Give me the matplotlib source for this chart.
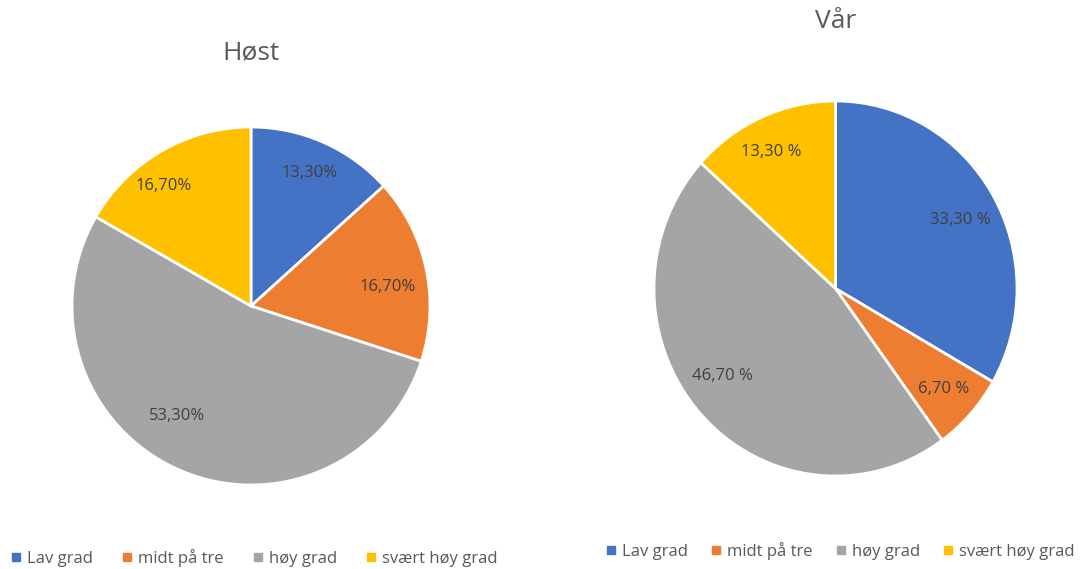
import numpy as np
import matplotlib.pyplot as plt
from matplotlib.lines import Line2D

categories = ["Lav grad", "midt på tre", "høy grad", "svært høy grad"]
colors = ["#4472C4", "#ED7D31", "#A5A5A5", "#FFC000"]

host_values = [13.3, 16.7, 53.3, 16.7]
host_labels = ["13,30%", "16,70%", "53,30%", "16,70%"]

var_values = [33.3, 6.7, 46.7, 13.3]
var_labels = ["33,30 %", "6,70 %", "46,70 %", "13,30 %"]

# label placement (radius fraction, angle shift in degrees), Excel-ish best fit
host_label_pos = [(0.81, 0), (0.77, -4), (0.74, -10), (0.83, 6)]
var_label_pos = [(0.78, -2), (0.80, 0), (0.78, -5), (0.81, 2)]

plt.rcParams["font.family"] = ["Open Sans", "DejaVu Sans"]

W, H = 1085, 569
fig = plt.figure(figsize=(W / 100, H / 100), dpi=100)


def draw_pie(cx, cy, rx, ry, values, labels, label_pos, title, title_y,
             legend_y, legend_x, col_space):
    ax = fig.add_axes([(cx - rx) / W, (H - cy - ry) / H, 2 * rx / W, 2 * ry / H])
    ax.pie(values, colors=colors, startangle=90, counterclock=False,
           wedgeprops=dict(edgecolor="white", linewidth=2))
    total = sum(values)
    start = 90.0
    for v, lab, (rad, shift) in zip(values, labels, label_pos):
        mid = np.deg2rad(start - v / total * 360 / 2 + shift)
        start -= v / total * 360
        ax.text(rad * np.cos(mid), rad * np.sin(mid), lab, ha="center", va="center",
                fontsize=12, color="#404040")
    ax.set_aspect("auto")
    ax.set_xlim(-1, 1)
    ax.set_ylim(-1, 1)
    fig.text(cx / W, 1 - title_y / H, title, ha="center", va="center",
             fontsize=19, color="#595959")
    handles = [Line2D([], [], marker="s", linestyle="none", markersize=6,
                      markerfacecolor=c, markeredgecolor=c) for c in colors]
    fig.legend(handles, categories, loc="center left", bbox_to_anchor=(legend_x / W, 1 - legend_y / H),
               ncol=4, frameon=False, fontsize=12, labelcolor="#595959",
               handlelength=0.6, handletextpad=0.35, columnspacing=col_space, borderpad=0)


draw_pie(251, 306, 179, 179, host_values, host_labels, host_label_pos, "Høst", 53, 558, 3, 1.75)
draw_pie(835.5, 288.5, 181.5, 187.5, var_values, var_labels, var_label_pos, "Vår", 22, 551, 598, 1.4)

fig.savefig("out.png", dpi=100)
